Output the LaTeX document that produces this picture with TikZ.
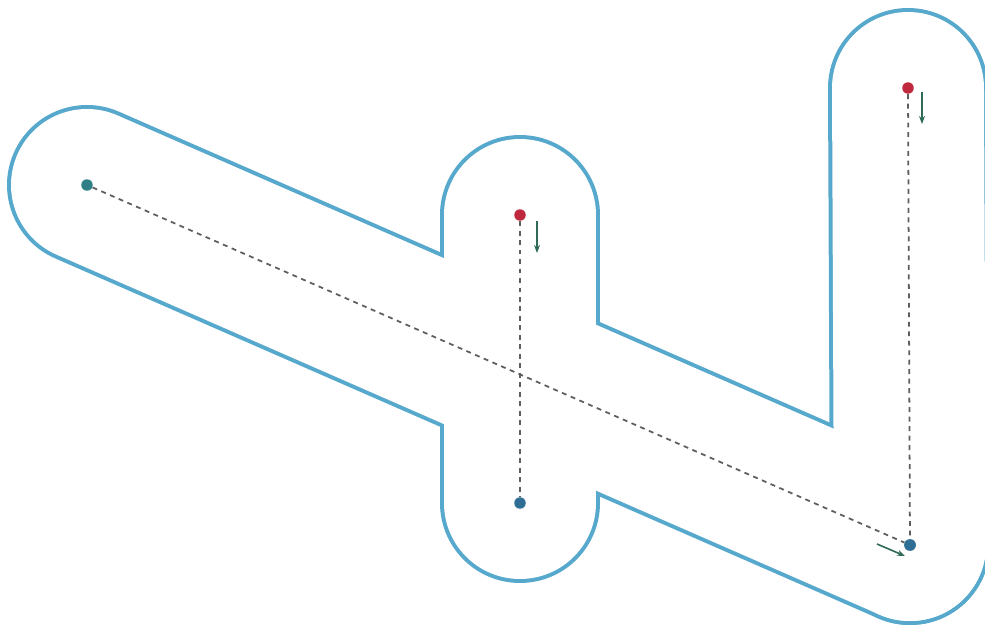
\documentclass[tikz,border=0pt]{standalone}
\usetikzlibrary{arrows.meta, positioning, calc}
\definecolor{cline}{HTML}{56A8CC}
\definecolor{cgrey}{HTML}{5E5E5E}
\definecolor{cteal}{HTML}{2E7F86}
\definecolor{cred}{HTML}{C0283E}
\definecolor{cblue}{HTML}{2F6F96}
\definecolor{cgreen}{HTML}{2F6B55}
\tikzset{
  buffer/.style={draw=cline, line width=3.2cm, line cap=round},
  inside/.style={draw=white, line width=3.04cm, line cap=round},
  dot/.style={circle, fill=#1, inner sep=0pt, minimum size=0.23cm},
  dot/.default=cblue,
  track/.style={draw=cgrey, line width=1pt, dash pattern=on 2.8pt off 2.6pt},
  dirarrow/.style={-{Stealth[length=1.6mm, width=1.2mm]}, draw=cgreen, line width=0.9pt},
}
\begin{document}
\begin{tikzpicture}[x=0.02cm, y=-0.02cm]
  \useasboundingbox (0,0) rectangle (985,625);
  % the three centre lines
  \coordinate (pa) at (87,185);
  \coordinate (qa) at (910,545);
  \coordinate (pb) at (520,215);
  \coordinate (qb) at (520,503);
  \coordinate (pc) at (908,88);
  \coordinate (qc) at (910,545);
  % outline of the union of the buffers
  \foreach \s/\e in {pa/qa, pb/qb, pc/qc}
    \draw[buffer] (\s) -- (\e);
  \foreach \s/\e in {pa/qa, pb/qb, pc/qc}
    \draw[inside] (\s) -- (\e);
  % end points
  \node[dot=cteal] (a1) at (pa) {};
  \node[dot] (a2) at (qa) {};
  \node[dot=cred] (b1) at (pb) {};
  \node[dot] (b2) at (qb) {};
  \node[dot=cred] (c1) at (pc) {};
  \node[dot] (c2) at (qc) {};
  \draw[track] (a1) -- (a2);
  \draw[track] (b1) -- (b2);
  \draw[track] (c1) -- (c2);
  % direction marks
  \draw[dirarrow] ($(b1)+(17,6)$) -- ++(0,32);
  \draw[dirarrow] ($(c1)+(14,4)$) -- ++(0,32);
  \draw[dirarrow] ($(a2)+(-33,-1)$) -- ++(28,12);
\end{tikzpicture}
\end{document}
